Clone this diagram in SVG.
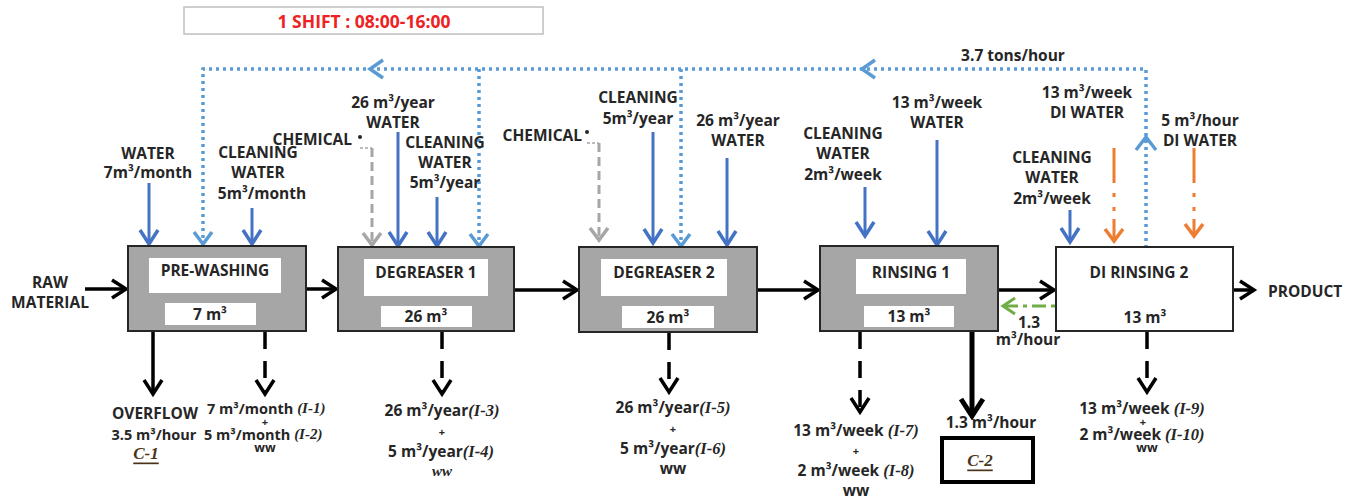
<svg xmlns="http://www.w3.org/2000/svg" width="1357" height="502" viewBox="0 0 1357 502">
<style>
.t{font-family:"Open Sans","Liberation Sans",sans-serif;font-weight:700;font-size:15.5px;fill:#262626;text-anchor:middle;dominant-baseline:central}
.s{text-anchor:start}
.e{text-anchor:end}
.i{font-family:"Liberation Serif",serif;font-style:italic;font-weight:700;font-size:16.5px}
.pl{font-size:11px}
.ww{font-size:12.5px}
.cc{font-family:"Liberation Serif",serif;font-style:italic;font-weight:700;font-size:17px;fill:#4a3418;text-anchor:middle;dominant-baseline:central;text-decoration:underline}
.box{fill:#a6a6a6;stroke:#262626;stroke-width:2}
.wbox{fill:#fff;stroke:#262626;stroke-width:2}
.lbl{fill:#fff}
.blk{stroke:#000;stroke-width:3.5;fill:none}
.dsh{stroke-dasharray:17 12}
.blue{stroke:#4472c4;stroke-width:3;fill:none}
.dot{stroke:#5b9bd5;stroke-width:3.5;fill:none;stroke-dasharray:3 4}
.gray{stroke:#a6a6a6;stroke-width:3;fill:none;stroke-dasharray:9 5}
.grayt{stroke:#a6a6a6;stroke-width:1.5;fill:none;stroke-dasharray:3 2}
.org{stroke:#ed7d31;stroke-width:3;fill:none;stroke-dasharray:35 10 4 10 4 8}
.grn{stroke:#70ad47;stroke-width:3;fill:none;stroke-dasharray:4 5 14 5}
</style>
<defs>
<marker id="mBlk" markerUnits="userSpaceOnUse" viewBox="-18 -13 22 26" refX="0" refY="0" markerWidth="22" markerHeight="26" orient="auto"><path d="M-14,-9 L0,0 L-14,9" fill="none" stroke="#000" stroke-width="3.5"/></marker>
<marker id="mBlkL" markerUnits="userSpaceOnUse" viewBox="-20 -15 24 30" refX="0" refY="0" markerWidth="24" markerHeight="30" orient="auto"><path d="M-17,-11 L0,0 L-17,11" fill="none" stroke="#000" stroke-width="5"/></marker>
<marker id="mBlue" markerUnits="userSpaceOnUse" viewBox="-18 -13 22 26" refX="0" refY="0" markerWidth="22" markerHeight="26" orient="auto"><path d="M-14,-9 L0,0 L-14,9" fill="none" stroke="#4472c4" stroke-width="3.5"/></marker>
<marker id="mDot" markerUnits="userSpaceOnUse" viewBox="-18 -13 22 26" refX="0" refY="0" markerWidth="22" markerHeight="26" orient="auto"><path d="M-12,-9 L0,0 L-12,9" fill="none" stroke="#5b9bd5" stroke-width="3.5"/></marker>
<marker id="mGray" markerUnits="userSpaceOnUse" viewBox="-18 -13 22 26" refX="0" refY="0" markerWidth="22" markerHeight="26" orient="auto"><path d="M-12,-9 L0,0 L-12,9" fill="none" stroke="#a6a6a6" stroke-width="3.5"/></marker>
<marker id="mOrg" markerUnits="userSpaceOnUse" viewBox="-18 -13 22 26" refX="0" refY="0" markerWidth="22" markerHeight="26" orient="auto"><path d="M-12,-9 L0,0 L-12,9" fill="none" stroke="#ed7d31" stroke-width="3.5"/></marker>
<marker id="mGrn" markerUnits="userSpaceOnUse" viewBox="-18 -13 22 26" refX="0" refY="0" markerWidth="22" markerHeight="26" orient="auto"><path d="M-12,-8 L0,0 L-12,8" fill="none" stroke="#70ad47" stroke-width="3"/></marker>
</defs>
<rect width="1357" height="502" fill="#fff"/>

<g id="shift">
<rect x="184" y="7" width="359" height="27" fill="#fff" stroke="#bfbfbf" stroke-width="1.5"/>
<text class="t" x="364" y="21" style="fill:#ee2222;font-size:17.5px">1 SHIFT : 08:00-16:00</text>
</g>

<g id="connectors">
<path class="dot" d="M1146,248 V69 H203 V244" marker-end="url(#mDot)"/>
<path class="dot" d="M479,69 V246" marker-end="url(#mDot)"/>
<path class="dot" d="M681,69 V246" marker-end="url(#mDot)"/>
<path d="M1136,150 L1146,137 L1156,150" fill="none" stroke="#5b9bd5" stroke-width="3.5"/>
<path d="M383,60 L370,69 L383,78" fill="none" stroke="#5b9bd5" stroke-width="3.5"/>
<path d="M875,60 L862,69 L875,78" fill="none" stroke="#5b9bd5" stroke-width="3.5"/>
<path class="blk" d="M85,289 H126" marker-end="url(#mBlk)"/>
<path class="blk" d="M306,289 H336" marker-end="url(#mBlk)"/>
<path class="blk" d="M514,290 H577" marker-end="url(#mBlk)"/>
<path class="blk" d="M757,290 H818" marker-end="url(#mBlk)"/>
<path class="blk" d="M998,290 H1054" marker-end="url(#mBlk)"/>
<path class="blk" d="M1233,290 H1254" marker-end="url(#mBlk)"/>
<path class="grn" d="M1055,306 H1003" marker-end="url(#mGrn)"/>
<path class="blk" d="M153,332 V394" marker-end="url(#mBlk)"/>
<path class="blk dsh" d="M265,332 V394" marker-end="url(#mBlk)"/>
<path class="blk dsh" d="M442,332 V394" marker-end="url(#mBlk)"/>
<path class="blk dsh" d="M669,333 V392" marker-end="url(#mBlk)"/>
<path class="blk dsh" d="M860,332 V412" marker-end="url(#mBlk)"/>
<path class="blk" d="M972,332 V416" style="stroke-width:5" marker-end="url(#mBlkL)"/>
<path class="blk dsh" d="M1147,332 V392" marker-end="url(#mBlk)"/>
<path class="blue" d="M149,183 V244" marker-end="url(#mBlue)"/>
<path class="blue" d="M252,208 V244" marker-end="url(#mBlue)"/>
<path class="blue" d="M398,132 V246" marker-end="url(#mBlue)"/>
<path class="blue" d="M437,197 V246" marker-end="url(#mBlue)"/>
<path class="blue" d="M653,132 V243" marker-end="url(#mBlue)"/>
<path class="blue" d="M727,158 V245" marker-end="url(#mBlue)"/>
<path class="blue" d="M865,187 V236" marker-end="url(#mBlue)"/>
<path class="blue" d="M937,140 V245" marker-end="url(#mBlue)"/>
<path class="blue" d="M1070,210 V242" marker-end="url(#mBlue)"/>
<circle cx="360" cy="137" r="2" fill="#262626"/>
<path class="grayt" d="M360,148 H372"/>
<path class="gray" d="M372,148 V245" marker-end="url(#mGray)"/>
<circle cx="587" cy="132" r="2" fill="#262626"/>
<path class="grayt" d="M587,143 H599"/>
<path class="gray" d="M599,143 V240" marker-end="url(#mGray)"/>
<path class="org" d="M1114,148 V241" marker-end="url(#mOrg)"/>
<path class="org" d="M1194,148 V236" marker-end="url(#mOrg)"/>
</g>

<g id="prewashing">
<rect class="box" x="128" y="246" width="178" height="85"/>
<rect class="lbl" x="149" y="258" width="132" height="35"/>
<rect class="lbl" x="165" y="303" width="91" height="22"/>
<text class="t" x="215" y="270">PRE-WASHING</text>
<text class="t" x="210" y="314">7 m³</text>
</g>
<g id="degreaser1">
<rect class="box" x="338" y="247" width="176" height="84"/>
<rect class="lbl" x="364" y="259" width="124" height="37"/>
<rect class="lbl" x="381" y="306" width="91" height="21"/>
<text class="t" x="426" y="272">DEGREASER 1</text>
<text class="t" x="426" y="316">26 m³</text>
</g>
<g id="degreaser2">
<rect class="box" x="579" y="247" width="178" height="85"/>
<rect class="lbl" x="601" y="259" width="126" height="37"/>
<rect class="lbl" x="622" y="306" width="92" height="22"/>
<text class="t" x="664" y="272">DEGREASER 2</text>
<text class="t" x="668" y="317">26 m³</text>
</g>
<g id="rinsing1">
<rect class="box" x="820" y="246" width="178" height="85"/>
<rect class="lbl" x="856" y="259" width="110" height="35"/>
<rect class="lbl" x="864" y="306" width="90" height="21"/>
<text class="t" x="911" y="272">RINSING 1</text>
<text class="t" x="909" y="316">13 m³</text>
</g>
<g id="dirinsing2">
<rect class="wbox" x="1056" y="247" width="177" height="84"/>
<text class="t" x="1139" y="272">DI RINSING 2</text>
<text class="t" x="1145" y="317">13 m³</text>
</g>
<g id="c2">
<rect x="942" y="438" width="91" height="44" fill="#fff" stroke="#000" stroke-width="4"/>
<text class="cc" x="980" y="460">C-2</text>
</g>

<g id="labels">
<text class="t" x="1013" y="55">3.7 tons/hour</text>
<text class="t" x="148" y="153">WATER</text>
<text class="t" x="148" y="172">7m³/month</text>
<text class="t" x="258" y="152">CLEANING</text>
<text class="t" x="258" y="172">WATER</text>
<text class="t" x="262" y="193">5m³/month</text>
<text class="t" x="393" y="102">26 m³/year</text>
<text class="t" x="393" y="122">WATER</text>
<text class="t e" x="352" y="139">CHEMICAL</text>
<text class="t" x="445" y="142">CLEANING</text>
<text class="t" x="445" y="162">WATER</text>
<text class="t" x="445" y="182">5m³/year</text>
<text class="t e" x="582" y="135">CHEMICAL</text>
<text class="t" x="638" y="97">CLEANING</text>
<text class="t" x="638" y="118">5m³/year</text>
<text class="t" x="738" y="120">26 m³/year</text>
<text class="t" x="738" y="140">WATER</text>
<text class="t" x="843" y="133">CLEANING</text>
<text class="t" x="843" y="153">WATER</text>
<text class="t" x="843" y="174">2m³/week</text>
<text class="t" x="937" y="102">13 m³/week</text>
<text class="t" x="937" y="122">WATER</text>
<text class="t" x="1087" y="92">13 m³/week</text>
<text class="t" x="1087" y="112">DI WATER</text>
<text class="t" x="1200" y="120">5 m³/hour</text>
<text class="t" x="1200" y="140">DI WATER</text>
<text class="t" x="1052" y="157">CLEANING</text>
<text class="t" x="1052" y="177">WATER</text>
<text class="t" x="1052" y="198">2m³/week</text>
<text class="t" x="50" y="282">RAW</text>
<text class="t" x="50" y="302">MATERIAL</text>
<text class="t s" x="1268" y="291">PRODUCT</text>
<text class="t" x="1029" y="322">1.3</text>
<text class="t" x="1028" y="339">m³/hour</text>

<text class="t" x="155" y="413">OVERFLOW</text>
<text class="t" x="154" y="434" style="font-size:14.5px">3.5 m³/hour</text>
<text class="cc" x="146" y="453">C-1</text>
<text class="t s" x="207" y="408" style="font-size:14.5px">7 m³/month <tspan class="i" style="font-size:15px">(I-1)</tspan></text>
<text class="t pl" x="265" y="421">+</text>
<text class="t s" x="204" y="434" style="font-size:14.5px">5 m³/month <tspan class="i" style="font-size:15px">(I-2)</tspan></text>
<text class="t ww" x="265" y="447">ww</text>

<text class="t" x="442" y="410">26 m³/year<tspan class="i">(I-3)</tspan></text>
<text class="t pl" x="442" y="431">+</text>
<text class="t" x="441" y="451">5 m³/year<tspan class="i">(I-4)</tspan></text>
<text class="t i" x="442" y="471" style="font-size:15px">ww</text>

<text class="t" x="673" y="407">26 m³/year<tspan class="i">(I-5)</tspan></text>
<text class="t pl" x="673" y="428">+</text>
<text class="t" x="673" y="448">5 m³/year<tspan class="i">(I-6)</tspan></text>
<text class="t" x="673" y="468">ww</text>

<text class="t" x="856" y="430">13 m³/week <tspan class="i">(I-7)</tspan></text>
<text class="t pl" x="856" y="450">+</text>
<text class="t" x="856" y="470">2 m³/week <tspan class="i">(I-8)</tspan></text>
<text class="t" x="856" y="490">ww</text>

<text class="t" x="991" y="422">1.3 m³/hour</text>

<text class="t" x="1142" y="408">13 m³/week <tspan class="i">(I-9)</tspan></text>
<text class="t pl" x="1143" y="421">+</text>
<text class="t" x="1142" y="434">2 m³/week <tspan class="i">(I-10)</tspan></text>
<text class="t ww" x="1147" y="447">ww</text>
</g>
</svg>
